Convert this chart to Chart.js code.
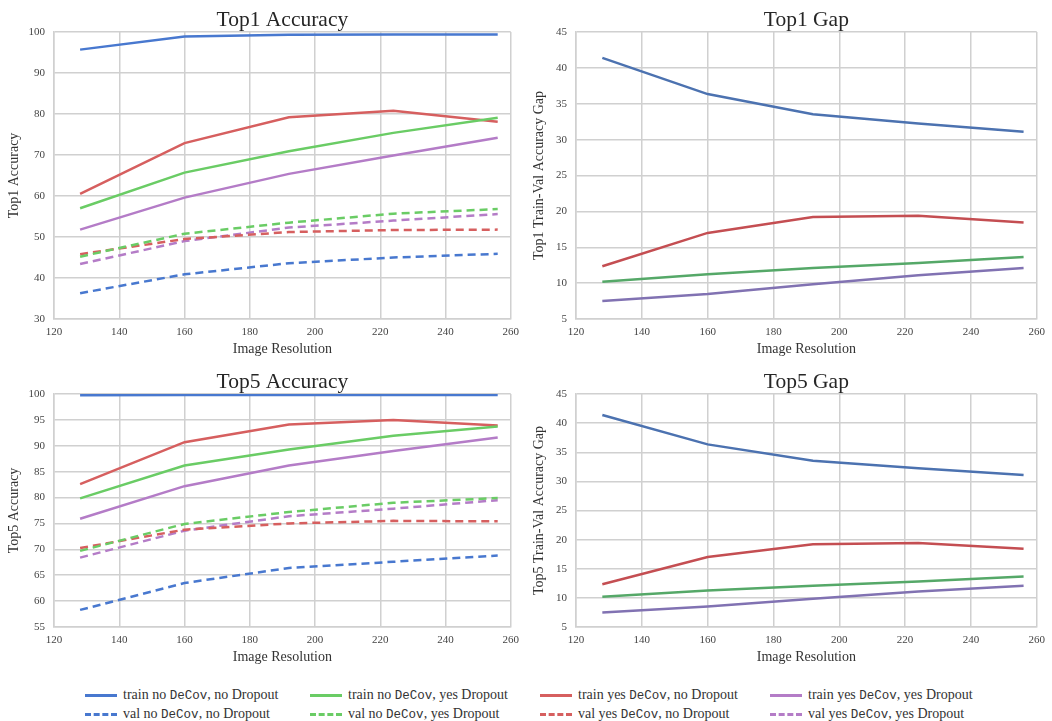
<!DOCTYPE html>
<html>
<head>
<meta charset="utf-8">
<script src="https://cdn.jsdelivr.net/npm/chart.js@4/dist/chart.umd.min.js"></script>
<style>
body{margin:0;background:#fff;width:1052px;height:721px;position:relative;overflow:hidden;font-family:"Liberation Serif",serif;}
.box{position:absolute;}
#legend{position:absolute;left:0;top:684px;width:1052px;height:37px;font-size:14px;color:#333;}
.item{position:absolute;height:18px;line-height:18px;white-space:nowrap;}
.sw{position:absolute;left:0;top:8px;width:32px;height:0;border-top:3px solid;}
.sw.dash{border-top-style:dashed;}
.item .t{position:absolute;left:38px;top:0;}
.mono{font-family:"Liberation Mono",monospace;font-size:12.5px;}
</style>
</head>
<body>
<div class="box" style="left:0;top:0;width:526px;height:362px"><canvas id="c1"></canvas></div>
<div class="box" style="left:526px;top:0;width:526px;height:362px"><canvas id="c2"></canvas></div>
<div class="box" style="left:0;top:362px;width:526px;height:308px"><canvas id="c3"></canvas></div>
<div class="box" style="left:526px;top:362px;width:526px;height:308px"><canvas id="c4"></canvas></div>
<div id="legend"></div>
<script>
// image resolutions on the x axis
var resolutions = [128, 160, 192, 224, 256];

// Top1 accuracy
var top1_train_noDeCov_noDrop  = [95.7, 98.9, 99.35, 99.4, 99.4];
var top1_train_noDeCov_yesDrop = [57.0, 65.7, 70.9, 75.4, 79.1];
var top1_train_yesDeCov_noDrop = [60.5, 72.9, 79.2, 80.8, 78.1];
var top1_train_yesDeCov_yesDrop= [51.8, 59.6, 65.4, 69.9, 74.2];
var top1_val_noDeCov_noDrop    = [36.3, 40.9, 43.6, 45.0, 45.9];
var top1_val_noDeCov_yesDrop   = [45.2, 50.8, 53.5, 55.7, 56.8];
var top1_val_yesDeCov_noDrop   = [45.8, 49.5, 51.2, 51.7, 51.8];
var top1_val_yesDeCov_yesDrop  = [43.4, 49.0, 52.3, 54.0, 55.6];

// Top5 accuracy
var top5_train_noDeCov_noDrop  = [99.75, 99.8, 99.8, 99.8, 99.8];
var top5_train_noDeCov_yesDrop = [79.85, 86.2, 89.3, 91.95, 93.7];
var top5_train_yesDeCov_noDrop = [82.6, 90.7, 94.1, 95.0, 93.9];
var top5_train_yesDeCov_yesDrop= [75.9, 82.2, 86.2, 89.0, 91.6];
var top5_val_noDeCov_noDrop    = [58.3, 63.5, 66.4, 67.6, 68.8];
var top5_val_noDeCov_yesDrop   = [69.7, 74.9, 77.2, 79.0, 79.9];
var top5_val_yesDeCov_noDrop   = [70.25, 73.8, 75.0, 75.5, 75.4];
var top5_val_yesDeCov_yesDrop  = [68.4, 73.6, 76.4, 77.85, 79.5];

// train-val gap (same in both gap panels)
var gap_noDeCov_noDrop   = [41.4, 36.35, 33.55, 32.25, 31.1];
var gap_noDeCov_yesDrop  = [10.2, 11.25, 12.1, 12.8, 13.65];
var gap_yesDeCov_noDrop  = [12.35, 17.0, 19.2, 19.4, 18.45];
var gap_yesDeCov_yesDrop = [7.5, 8.5, 9.85, 11.1, 12.1];

var xTicks = [120, 140, 160, 180, 200, 220, 240, 260];

var muted = ['#4878CF', '#6ACC65', '#D65F5F', '#B47CC7'];
var deep = ['#4C72B0', '#55A868', '#C44E52', '#8172B2'];

Chart.defaults.font.family = '"Liberation Serif", serif';
Chart.defaults.color = '#444';

function pts(arr){
  var out = [];
  for (var i = 0; i < resolutions.length; i++){
    out.push({x: resolutions[i], y: arr[i]});
  }
  return out;
}

function line(arr, color, dashed){
  return {
    data: pts(arr),
    borderColor: color,
    backgroundColor: color,
    borderWidth: 2.5,
    borderDash: dashed ? [8, 5] : [],
    pointRadius: 0,
    tension: 0,
    fill: false
  };
}

// title centred over the plot area, like the original figure
var panelTitle = {
  id: 'panelTitle',
  afterDraw: function(chart, args, opts){
    var a = chart.chartArea, ctx = chart.ctx;
    ctx.save();
    ctx.font = '21.5px "Liberation Serif", serif';
    ctx.fillStyle = '#262626';
    ctx.textAlign = 'center';
    ctx.textBaseline = 'alphabetic';
    ctx.fillText(opts.text, (a.left + a.right) / 2, a.top - 6);
    ctx.restore();
  }
};

function makeChart(id, title, yTitle, yMin, yMax, yStep, datasets, leftW, rightPad, yTitlePad){
  return new Chart(document.getElementById(id), {
    type: 'line',
    data: {datasets: datasets},
    plugins: [panelTitle],
    options: {
      responsive: true,
      maintainAspectRatio: false,
      animation: false,
      layout: {padding: {top: 32, right: rightPad, bottom: 0, left: 0}},
      plugins: {
        legend: {display: false},
        tooltip: {enabled: false},
        panelTitle: {text: title}
      },
      scales: {
        x: {
          type: 'linear',
          min: 120, max: 260,
          afterBuildTicks: function(s){ s.ticks = xTicks.map(function(v){ return {value: v}; }); },
          afterFit: function(s){ s.height = 43; },
          grid: {color: '#d0d0d0', lineWidth: 1.5, drawTicks: false},
          border: {color: '#d0d0d0', width: 1.5},
          ticks: {padding: 7, font: {size: 11}, color: '#444'},
          title: {display: true, text: 'Image Resolution', font: {size: 14}, color: '#333', padding: {top: 0, bottom: 4}}
        },
        y: {
          min: yMin, max: yMax,
          afterFit: function(s){ s.width = leftW; },
          grid: {color: '#d0d0d0', lineWidth: 1.5, drawTicks: false},
          border: {color: '#d0d0d0', width: 1.5},
          ticks: {stepSize: yStep, padding: 9, font: {size: 11}, color: '#444'},
          title: {display: true, text: yTitle, font: {size: 14}, color: '#333', padding: {top: yTitlePad, bottom: 0}}
        }
      }
    }
  });
}

makeChart('c1', 'Top1 Accuracy', 'Top1 Accuracy', 30, 100, 10, [
  line(top1_train_noDeCov_noDrop, muted[0], false),
  line(top1_train_noDeCov_yesDrop, muted[1], false),
  line(top1_train_yesDeCov_noDrop, muted[2], false),
  line(top1_train_yesDeCov_yesDrop, muted[3], false),
  line(top1_val_noDeCov_noDrop, muted[0], true),
  line(top1_val_noDeCov_yesDrop, muted[1], true),
  line(top1_val_yesDeCov_noDrop, muted[2], true),
  line(top1_val_yesDeCov_yesDrop, muted[3], true)
], 54, 11, 6);

makeChart('c2', 'Top1 Gap', 'Top1 Train-Val Accuracy Gap', 5, 45, 5, [
  line(gap_noDeCov_noDrop, deep[0], false),
  line(gap_noDeCov_yesDrop, deep[1], false),
  line(gap_yesDeCov_noDrop, deep[2], false),
  line(gap_yesDeCov_yesDrop, deep[3], false)
], 50, 9, 5);

makeChart('c3', 'Top5 Accuracy', 'Top5 Accuracy', 55, 100, 5, [
  line(top5_train_noDeCov_noDrop, muted[0], false),
  line(top5_train_noDeCov_yesDrop, muted[1], false),
  line(top5_train_yesDeCov_noDrop, muted[2], false),
  line(top5_train_yesDeCov_yesDrop, muted[3], false),
  line(top5_val_noDeCov_noDrop, muted[0], true),
  line(top5_val_noDeCov_yesDrop, muted[1], true),
  line(top5_val_yesDeCov_noDrop, muted[2], true),
  line(top5_val_yesDeCov_yesDrop, muted[3], true)
], 54, 11, 6);

makeChart('c4', 'Top5 Gap', 'Top5 Train-Val Accuracy Gap', 5, 45, 5, [
  line(gap_noDeCov_noDrop, deep[0], false),
  line(gap_noDeCov_yesDrop, deep[1], false),
  line(gap_yesDeCov_noDrop, deep[2], false),
  line(gap_yesDeCov_yesDrop, deep[3], false)
], 50, 9, 5);

// legend (mixed fonts, so it is plain HTML)
var legendItems = [
  ['train no ', ', no Dropout', 0, false],
  ['train no ', ', yes Dropout', 1, false],
  ['train yes ', ', no Dropout', 2, false],
  ['train yes ', ', yes Dropout', 3, false],
  ['val no ', ', no Dropout', 0, true],
  ['val no ', ', yes Dropout', 1, true],
  ['val yes ', ', no Dropout', 2, true],
  ['val yes ', ', yes Dropout', 3, true]
];
var colLeft = [85, 310, 540, 770];
var rowTop = [2, 21];
var leg = document.getElementById('legend');
for (var i = 0; i < legendItems.length; i++){
  var it = legendItems[i];
  var d = document.createElement('div');
  d.className = 'item';
  d.style.left = colLeft[i % 4] + 'px';
  d.style.top = rowTop[Math.floor(i / 4)] + 'px';
  d.innerHTML = '<div class="sw' + (it[3] ? ' dash' : '') + '" style="border-top-color:' + muted[it[2]] + '"></div>' +
    '<span class="t">' + it[0] + '<span class="mono">DeCov</span>' + it[1] + '</span>';
  leg.appendChild(d);
}
</script>
</body>
</html>
